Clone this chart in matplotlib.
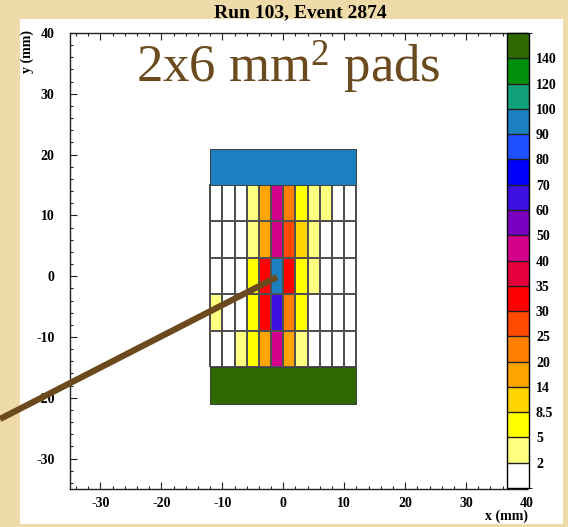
import numpy as np
import matplotlib
matplotlib.use("Agg")
import matplotlib.pyplot as plt
from matplotlib.colors import ListedColormap, BoundaryNorm
from matplotlib.patches import Rectangle
from matplotlib.lines import Line2D
from matplotlib.cm import ScalarMappable

plt.rcParams['font.family'] = ['Liberation Serif', 'DejaVu Serif']
plt.rcParams['font.weight'] = 'bold'
plt.rcParams['axes.unicode_minus'] = False
plt.rcParams['mathtext.fontset'] = 'custom'
plt.rcParams['mathtext.rm'] = 'Liberation Serif'
plt.rcParams['mathtext.default'] = 'regular'

# ---- data ----
title = "Run 103, Event 2874"
levels = [0, 2, 5, 8.5, 14, 20, 25, 30, 35, 40, 50, 60, 70, 80, 90, 100, 120, 140, 200]
level_colors = ['#ffffff', '#ffff80', '#ffff00', '#ffd400', '#ffa500', '#ff8000',
                '#ff4a00', '#ff0000', '#e6003c', '#d4008c', '#7a00c0', '#3c10e0',
                '#0000ff', '#1e50ff', '#1a80c0', '#10a07a', '#00900c', '#2e6a00']
x_edges = [-12, -10, -8, -6, -4, -2, 0, 2, 4, 6, 8, 10, 12]
y_edges = [-15, -9, -3, 3, 9, 15]
row_m12 = [0, 0, 3, 6, 16, 45, 16, 3, 0, 0, 0, 0]   # y -15..-9
row_m6 = [3, 0, 0, 6, 32, 65, 22, 6, 0, 0, 0, 0]    # y -9..-3
row_0 = [0, 0, 0, 6, 32, 95, 32, 6, 3, 0, 0, 0]     # y -3..3
row_6 = [0, 0, 0, 3, 16, 45, 27, 10, 3, 0, 0, 0]    # y 3..9
row_12 = [0, 0, 0, 3, 16, 45, 22, 6, 3, 3, 0, 0]    # y 9..15
top_pad_edges_y = [15, 21]
top_pad_value = 95
bottom_pad_edges_y = [-21, -15]
bottom_pad_value = 150
pad_edges_x = [-12, 12]

W, H = 568, 527
fig = plt.figure(figsize=(W / 100, H / 100), dpi=100)
fig.patch.set_facecolor('#efdaa9')

def fx(px):
    return px / W

def fy(py):
    return 1 - py / H

# white panel
fig.add_artist(Rectangle((fx(20), fy(524)), fx(563) - fx(20), fy(19) - fy(524),
                         transform=fig.transFigure, facecolor='white',
                         edgecolor='none', zorder=-5))

ax = fig.add_axes([fx(70), fy(489), fx(527) - fx(70), fy(33) - fy(489)])
ax.set_facecolor('white')
cmap = ListedColormap(level_colors)
norm = BoundaryNorm(levels, cmap.N)

grid = np.array([row_m12, row_m6, row_0, row_6, row_12], dtype=float)
ax.pcolormesh(x_edges, y_edges, grid, cmap=cmap, norm=norm,
              edgecolors='#505050', linewidth=1.1)
ax.pcolormesh(pad_edges_x, top_pad_edges_y, np.array([[top_pad_value]]),
              cmap=cmap, norm=norm, edgecolors='#404040', linewidth=0.6)
ax.pcolormesh(pad_edges_x, bottom_pad_edges_y, np.array([[bottom_pad_value]]),
              cmap=cmap, norm=norm, edgecolors='#404040', linewidth=0.6)

ax.set_xlim(-35, 40)
ax.set_ylim(-35, 40)
ax.set_xticks([-30, -20, -10, 0, 10, 20, 30, 40])
ax.set_yticks([-30, -20, -10, 0, 10, 20, 30, 40])
ax.set_xticks(np.arange(-34, 41, 2), minor=True)
ax.set_yticks(np.arange(-34, 41, 2), minor=True)
ax.tick_params(which='both', direction='in', top=True, right=True, labelsize=10,
               width=0.8, color='#222222')
ax.tick_params(which='major', length=5)
ax.tick_params(which='minor', length=2.5)
ax.tick_params(axis='x', pad=6)
ax.tick_params(axis='y', pad=11)
for s in ax.spines.values():
    s.set_linewidth(1.0)
    s.set_color('#222222')

# colorbar
cax = fig.add_axes([fx(507), fy(488), fx(529) - fx(507), fy(33) - fy(488)])
sm = ScalarMappable(norm=norm, cmap=cmap)
cb = fig.colorbar(sm, cax=cax, spacing='uniform', drawedges=True,
                  ticks=levels[1:-1])
cb.ax.set_yticklabels(['2', '5', '8.5', '14', '20', '25', '30', '35', '40', '50',
                       '60', '70', '80', '90', '100', '120', '140'])
cb.ax.tick_params(length=0, labelsize=10, pad=5)
cb.outline.set_linewidth(1.0)
cb.dividers.set_linewidth(1.0)
cb.dividers.set_color('#202020')

# texts
fig.text(fx(300), fy(13), title, ha='center', va='center', fontsize=14,
         fontweight='bold')
fig.text(fx(27), fy(30), 'y (mm)', rotation=90, ha='center', va='top',
         fontsize=10, fontweight='bold')
fig.text(fx(528), fy(516), 'x (mm)', ha='right', va='center', fontsize=10,
         fontweight='bold')
fig.text(fx(136), fy(82), r'2x6 mm$^{2}$ pads', ha='left', va='baseline',
         fontsize=38, fontweight='normal', color='#6b4a1e')

# pointer line
fig.add_artist(Line2D([fx(0), fx(277)], [fy(419), fy(277)],
                      transform=fig.transFigure, color='#6b4a1e',
                      linewidth=4.5, solid_capstyle='butt', zorder=10))

fig.savefig('out.png', dpi=100, facecolor=fig.get_facecolor())
